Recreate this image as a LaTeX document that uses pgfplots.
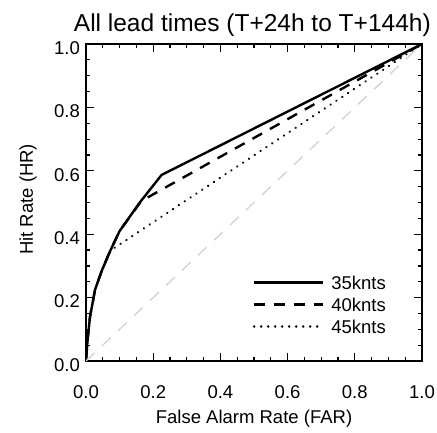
\documentclass[border=0pt]{standalone}
\usepackage{fontspec}
\setmainfont{Liberation Sans}
\usepackage{pgfplots}
\pgfplotsset{compat=1.18}
\newcommand{\lbl}{\fontsize{18.5}{22}\selectfont}
\begin{document}
\begin{tikzpicture}
\begin{axis}[
  scale only axis, width=336pt, height=317pt,
  xmin=0, xmax=1, ymin=0, ymax=1,
  xtick={0,0.2,...,1}, ytick={0,0.2,...,1},
  minor x tick num=3, minor y tick num=3,
  major tick length=8pt, minor tick length=4pt,
  tick style={black, line width=1.2pt},
  axis line style={line width=1.6pt},
  xticklabel style={anchor=base, yshift=-37pt, inner sep=0pt},
  yticklabel style={anchor=east, xshift=-6pt, yshift=-4pt, inner sep=0pt},
  /pgf/number format/.cd, fixed, fixed zerofill, precision=1, assume math mode=true,
  /pgfplots/.cd,
  ticklabel style={font=\lbl},
  title={All lead times (T+24h to T+144h)},
  every axis title/.style={at={(axis description cs:0.495,1.038)}, anchor=base, font=\fontsize{24.5}{28}\selectfont},
  xlabel={False Alarm Rate (FAR)},
  every axis x label/.style={at={(axis description cs:0.5,-0.1956)}, anchor=base, font=\lbl},
  ylabel={Hit Rate (HR)},
  every axis y label/.style={at={(axis description cs:-0.158,0.51)}, rotate=90, anchor=base, font=\lbl},
  legend image code/.code={\draw[#1] (0pt,0pt) -- (69pt,0pt);},
  legend style={draw=none, fill=none, inner sep=0pt, outer sep=0pt,
    at={(axis description cs:0.497,0.268)}, anchor=north west,
    row sep=9pt, column sep=7pt,
    nodes={font=\lbl, inner sep=0pt, text height=13pt, text depth=0pt}},
  legend cell align=left,
]
\addplot[black, line width=2.4pt] coordinates {(0,0)(0.005,0.07)(0.012,0.14)(0.027,0.225)(0.047,0.285)(0.071,0.345)(0.10,0.41)(0.16,0.50)(0.225,0.587)(1,1)};
\addplot[black, line width=2.4pt, dash pattern=on 11pt off 9pt] coordinates {(0,0)(0.005,0.07)(0.012,0.14)(0.027,0.225)(0.047,0.285)(0.071,0.345)(0.10,0.41)(0.165,0.505)(1,1)};
\addplot[black, line width=2.4pt, line cap=round, dash pattern=on 0.1pt off 6.9pt] coordinates {(0,0)(0.005,0.07)(0.012,0.14)(0.027,0.225)(0.047,0.285)(0.075,0.35)(1,1)};
\addplot[gray!35, line width=1.3pt, dash pattern=on 12pt off 10pt, forget plot] coordinates {(0,0)(1,1)};
\legend{35knts,40knts,45knts}
\end{axis}
\pgfresetboundingbox
\path[use as bounding box] (-86pt,-71pt) rectangle (351pt,361pt);
\end{tikzpicture}
\end{document}
